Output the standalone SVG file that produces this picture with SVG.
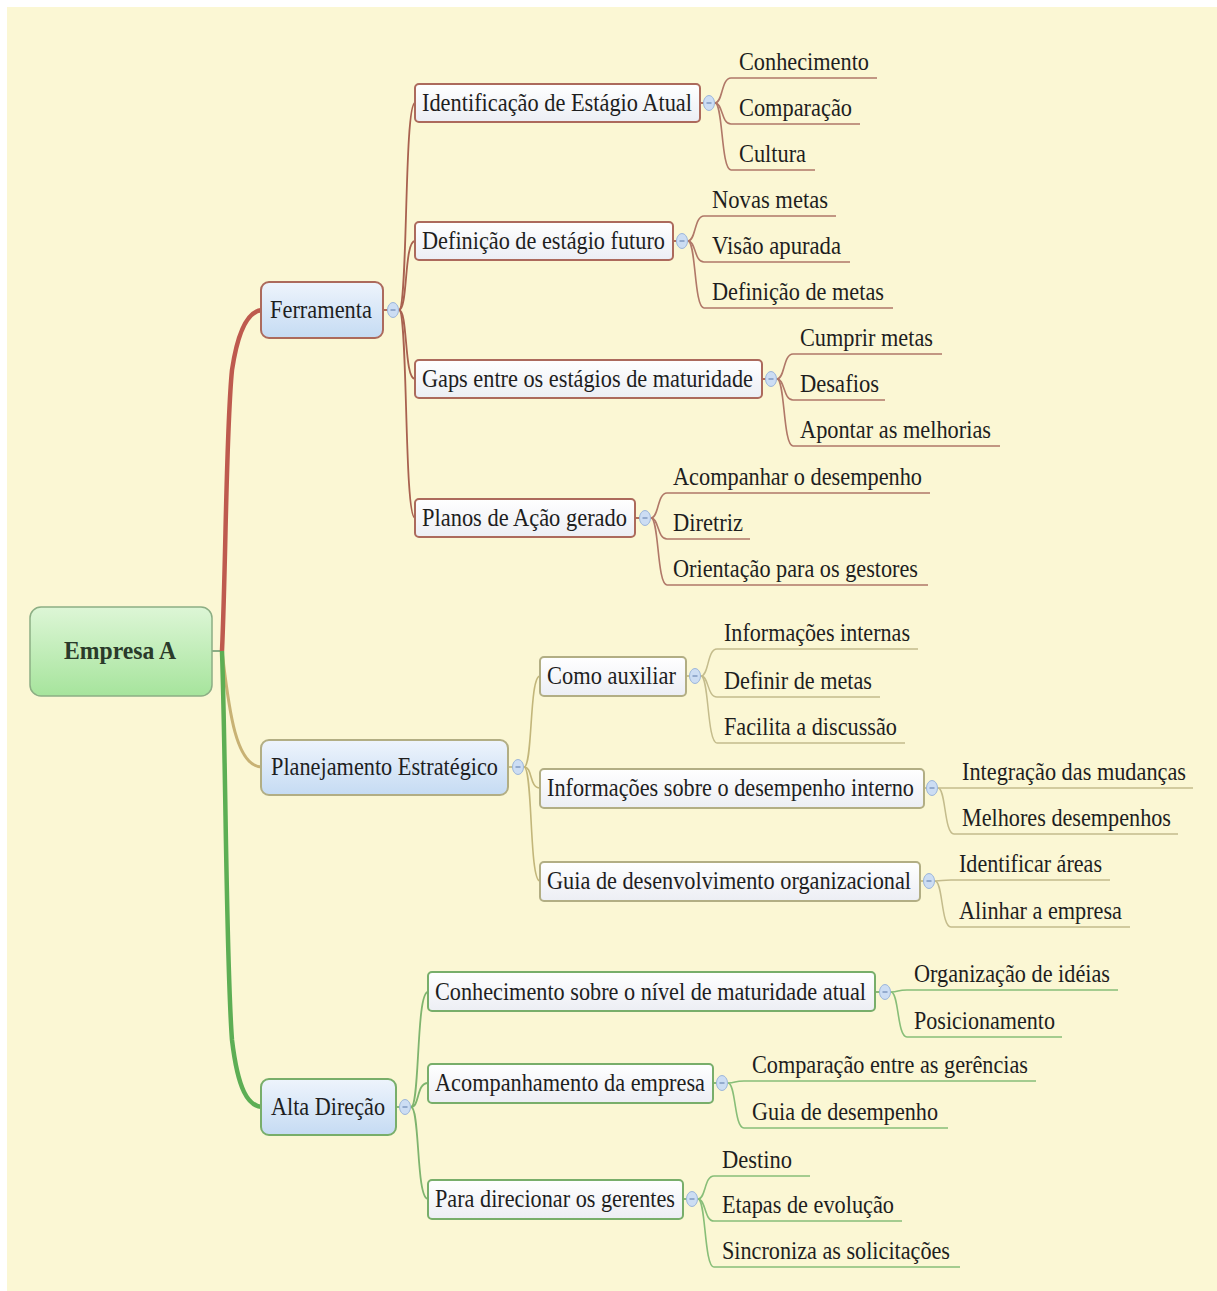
<svg xmlns="http://www.w3.org/2000/svg" width="1217" height="1291" viewBox="0 0 1217 1291">
  <defs>
    <linearGradient id="gRoot" x1="0" y1="0" x2="0" y2="1">
      <stop offset="0" stop-color="#DDF6D6"/>
      <stop offset="1" stop-color="#A6E49C"/>
    </linearGradient>
    <linearGradient id="gMain" x1="0" y1="0" x2="0" y2="1">
      <stop offset="0" stop-color="#EEF4FC"/>
      <stop offset="1" stop-color="#C5DBF3"/>
    </linearGradient>
    <linearGradient id="gSub" x1="0" y1="0" x2="0" y2="1">
      <stop offset="0" stop-color="#FFFFFF"/>
      <stop offset="1" stop-color="#ECEEF4"/>
    </linearGradient>
  </defs>
  <style>
    text { font-family: "Liberation Serif", "Times New Roman", serif; font-size: 25px; fill: #1E1E1E; }
    .rootText { font-weight: bold; font-size: 26px; fill: #2A3A2A; }
    .root { fill: url(#gRoot); stroke: #8CAE84; stroke-width: 1.5; }
    .main { fill: url(#gMain); stroke-width: 2; }
    .sub { fill: url(#gSub); stroke-width: 2; }
    .red { stroke: #AC6A5C; }
    .olive { stroke: #B2AE84; }
    .green { stroke: #78AE6A; }
    .icon { fill: #CCDDF3; stroke: #9CB6DA; stroke-width: 1; }
    .minus { stroke: #5A78A8; stroke-width: 1; }
    #connectors path { fill: none; }
    .cRed { stroke: #A8614F; stroke-width: 1.8; }
    .cOlive { stroke: #C2B67A; stroke-width: 1.6; }
    .cGreen { stroke: #7FB46E; stroke-width: 1.8; }
    .lRed { stroke: #B07868; stroke-width: 1.6; }
    .lOlive { stroke: #C4BC8C; stroke-width: 1.5; }
    .lGreen { stroke: #88BE78; stroke-width: 1.6; }
  </style>

  <!-- canvas -->
  <rect x="0" y="0" width="1217" height="1291" fill="#FFFFFF"/>
  <rect x="7" y="7" width="1210" height="1284" fill="#FBF7D4"/>

  <g id="connectors">
    <!-- trunk from the central topic -->
    <path d="M212 651 L222 651" stroke="#8CAE84" stroke-width="2"/>
    <path d="M222 651 C226 560 226 430 232 370 C238 330 248 311 262 310" stroke="#BE5A4E" stroke-width="4.5"/>
    <path d="M222 651 C228 700 234 767 262 767" stroke="#C8B274" stroke-width="3"/>
    <path d="M222 651 C226 770 226 960 232 1040 C238 1090 248 1106 262 1107" stroke="#5DAE54" stroke-width="4.5"/>

    <!-- Ferramenta branch -->
    <path class="cRed" d="M384 310 L388 310"/>
    <path class="cRed" d="M399 310 C408 310 404 103 415 103"/>
    <path class="cRed" d="M399 310 C408 310 404 241 415 241"/>
    <path class="cRed" d="M399 310 C408 310 404 379 415 379"/>
    <path class="cRed" d="M399 310 C408 310 404 518 415 518"/>
    <path class="cRed" d="M700 103 L704 103"/>
    <path class="cRed" d="M673 241 L677 241"/>
    <path class="cRed" d="M762 379 L766 379"/>
    <path class="cRed" d="M635 518 L640 518"/>

    <path class="lRed" d="M715 103 C723 103 721 78 731 78 L877 78"/>
    <path class="lRed" d="M715 103 C723 103 721 124 731 124 L860 124"/>
    <path class="lRed" d="M715 103 C723 103 721 170 731 170 L815 170"/>

    <path class="lRed" d="M688 241 C696 241 694 216 704 216 L836 216"/>
    <path class="lRed" d="M688 241 C696 241 694 262 704 262 L850 262"/>
    <path class="lRed" d="M688 241 C696 241 694 308 704 308 L893 308"/>

    <path class="lRed" d="M777 379 C785 379 783 354 793 354 L942 354"/>
    <path class="lRed" d="M777 379 C785 379 783 400 793 400 L885 400"/>
    <path class="lRed" d="M777 379 C785 379 783 446 793 446 L1000 446"/>

    <path class="lRed" d="M651 518 C659 518 657 493 667 493 L930 493"/>
    <path class="lRed" d="M651 518 C659 518 657 539 667 539 L750 539"/>
    <path class="lRed" d="M651 518 C659 518 657 585 667 585 L928 585"/>

    <!-- Planejamento Estratégico branch -->
    <path class="cOlive" d="M509 767 L513 767"/>
    <path class="cOlive" d="M524 767 C533 767 529 676 540 676"/>
    <path class="cOlive" d="M524 767 C533 767 529 788 540 788"/>
    <path class="cOlive" d="M524 767 C533 767 529 881 540 881"/>
    <path class="cOlive" d="M686 676 L690 676"/>
    <path class="cOlive" d="M924 788 L927 788"/>
    <path class="cOlive" d="M920 881 L924 881"/>

    <path class="lOlive" d="M701 676 C709 676 707 649 717 649 L918 649"/>
    <path class="lOlive" d="M701 676 C709 676 707 697 717 697 L880 697"/>
    <path class="lOlive" d="M701 676 C709 676 707 743 717 743 L905 743"/>

    <path class="lOlive" d="M938 788 C946 788 944 788 954 788 L1193 788"/>
    <path class="lOlive" d="M938 788 C946 788 944 834 954 834 L1178 834"/>

    <path class="lOlive" d="M935 881 C943 881 941 880 951 880 L1110 880"/>
    <path class="lOlive" d="M935 881 C943 881 941 927 951 927 L1130 927"/>

    <!-- Alta Direção branch -->
    <path class="cGreen" d="M397 1107 L400 1107"/>
    <path class="cGreen" d="M411 1107 C420 1107 416 992 428 992"/>
    <path class="cGreen" d="M411 1107 C420 1107 416 1083 428 1083"/>
    <path class="cGreen" d="M411 1107 C420 1107 416 1199 428 1199"/>
    <path class="cGreen" d="M875 992 L880 992"/>
    <path class="cGreen" d="M713 1083 L717 1083"/>
    <path class="cGreen" d="M683 1199 L687 1199"/>

    <path class="lGreen" d="M891 992 C899 992 897 990 907 990 L1118 990"/>
    <path class="lGreen" d="M891 992 C899 992 897 1037 907 1037 L1062 1037"/>

    <path class="lGreen" d="M728 1083 C736 1083 734 1081 744 1081 L1036 1081"/>
    <path class="lGreen" d="M728 1083 C736 1083 734 1128 744 1128 L948 1128"/>

    <path class="lGreen" d="M698 1199 C706 1199 704 1176 714 1176 L810 1176"/>
    <path class="lGreen" d="M698 1199 C706 1199 704 1221 714 1221 L902 1221"/>
    <path class="lGreen" d="M698 1199 C706 1199 704 1267 714 1267 L960 1267"/>
  </g>

  <!-- central topic -->
  <g id="empresa-a">
    <rect class="root" x="30" y="607" width="182" height="89" rx="11"/>
    <text class="rootText" x="64" y="659" textLength="112" lengthAdjust="spacingAndGlyphs">Empresa A</text>
  </g>

  <!-- main topics -->
  <g id="ferramenta">
    <rect class="main red" x="261" y="282" width="122" height="56" rx="8"/>
    <text x="270" y="318" textLength="102" lengthAdjust="spacingAndGlyphs">Ferramenta</text>
    <ellipse class="icon" cx="393" cy="310" rx="5.5" ry="7.5"/><line class="minus" x1="390.5" y1="310" x2="395.5" y2="310"/>
  </g>
  <g id="planejamento-estrategico">
    <rect class="main olive" x="261" y="740" width="247" height="55" rx="8"/>
    <text x="271" y="775" textLength="227" lengthAdjust="spacingAndGlyphs">Planejamento Estratégico</text>
    <ellipse class="icon" cx="518" cy="767" rx="5.5" ry="7.5"/><line class="minus" x1="515.5" y1="767" x2="520.5" y2="767"/>
  </g>
  <g id="alta-direcao">
    <rect class="main green" x="261" y="1079" width="135" height="56" rx="8"/>
    <text x="271" y="1115" textLength="114" lengthAdjust="spacingAndGlyphs">Alta Direção</text>
    <ellipse class="icon" cx="405" cy="1107" rx="5.5" ry="7.5"/><line class="minus" x1="402.5" y1="1107" x2="407.5" y2="1107"/>
  </g>

  <!-- Ferramenta subtopics -->
  <g id="identificacao">
    <rect class="sub red" x="415" y="84" width="285" height="38" rx="4"/>
    <text x="422" y="111" textLength="270" lengthAdjust="spacingAndGlyphs">Identificação de Estágio Atual</text>
    <ellipse class="icon" cx="709" cy="103" rx="5.5" ry="7.5"/><line class="minus" x1="706.5" y1="103" x2="711.5" y2="103"/>
  </g>
  <g id="definicao-futuro">
    <rect class="sub red" x="415" y="222" width="258" height="38" rx="4"/>
    <text x="422" y="249" textLength="243" lengthAdjust="spacingAndGlyphs">Definição de estágio futuro</text>
    <ellipse class="icon" cx="682" cy="241" rx="5.5" ry="7.5"/><line class="minus" x1="679.5" y1="241" x2="684.5" y2="241"/>
  </g>
  <g id="gaps">
    <rect class="sub red" x="415" y="360" width="347" height="38" rx="4"/>
    <text x="422" y="387" textLength="331" lengthAdjust="spacingAndGlyphs">Gaps entre os estágios de maturidade</text>
    <ellipse class="icon" cx="771" cy="379" rx="5.5" ry="7.5"/><line class="minus" x1="768.5" y1="379" x2="773.5" y2="379"/>
  </g>
  <g id="planos">
    <rect class="sub red" x="415" y="499" width="220" height="38" rx="4"/>
    <text x="422" y="526" textLength="205" lengthAdjust="spacingAndGlyphs">Planos de Ação gerado</text>
    <ellipse class="icon" cx="645" cy="518" rx="5.5" ry="7.5"/><line class="minus" x1="642.5" y1="518" x2="647.5" y2="518"/>
  </g>

  <!-- Planejamento subtopics -->
  <g id="como-auxiliar">
    <rect class="sub olive" x="540" y="657" width="146" height="39" rx="4"/>
    <text x="547" y="684" textLength="129" lengthAdjust="spacingAndGlyphs">Como auxiliar</text>
    <ellipse class="icon" cx="695" cy="676" rx="5.5" ry="7.5"/><line class="minus" x1="692.5" y1="676" x2="697.5" y2="676"/>
  </g>
  <g id="informacoes-desempenho">
    <rect class="sub olive" x="540" y="769" width="384" height="39" rx="4"/>
    <text x="547" y="796" textLength="367" lengthAdjust="spacingAndGlyphs">Informações sobre o desempenho interno</text>
    <ellipse class="icon" cx="932" cy="788" rx="5.5" ry="7.5"/><line class="minus" x1="929.5" y1="788" x2="934.5" y2="788"/>
  </g>
  <g id="guia-desenvolvimento">
    <rect class="sub olive" x="540" y="862" width="380" height="39" rx="4"/>
    <text x="547" y="889" textLength="364" lengthAdjust="spacingAndGlyphs">Guia de desenvolvimento organizacional</text>
    <ellipse class="icon" cx="929" cy="881" rx="5.5" ry="7.5"/><line class="minus" x1="926.5" y1="881" x2="931.5" y2="881"/>
  </g>

  <!-- Alta Direção subtopics -->
  <g id="conhecimento-maturidade">
    <rect class="sub green" x="428" y="972" width="447" height="39" rx="4"/>
    <text x="435" y="1000" textLength="431" lengthAdjust="spacingAndGlyphs">Conhecimento sobre o nível de maturidade atual</text>
    <ellipse class="icon" cx="885" cy="992" rx="5.5" ry="7.5"/><line class="minus" x1="882.5" y1="992" x2="887.5" y2="992"/>
  </g>
  <g id="acompanhamento-empresa">
    <rect class="sub green" x="428" y="1064" width="285" height="39" rx="4"/>
    <text x="435" y="1091" textLength="270" lengthAdjust="spacingAndGlyphs">Acompanhamento da empresa</text>
    <ellipse class="icon" cx="722" cy="1083" rx="5.5" ry="7.5"/><line class="minus" x1="719.5" y1="1083" x2="724.5" y2="1083"/>
  </g>
  <g id="direcionar-gerentes">
    <rect class="sub green" x="428" y="1180" width="255" height="39" rx="4"/>
    <text x="435" y="1207" textLength="240" lengthAdjust="spacingAndGlyphs">Para direcionar os gerentes</text>
    <ellipse class="icon" cx="692" cy="1199" rx="5.5" ry="7.5"/><line class="minus" x1="689.5" y1="1199" x2="694.5" y2="1199"/>
  </g>

  <!-- leaf topics -->
  <g id="leaves">
    <g id="conhecimento"><text x="739" y="70" textLength="130" lengthAdjust="spacingAndGlyphs">Conhecimento</text></g>
    <g id="comparacao"><text x="739" y="116" textLength="113" lengthAdjust="spacingAndGlyphs">Comparação</text></g>
    <g id="cultura"><text x="739" y="162" textLength="67" lengthAdjust="spacingAndGlyphs">Cultura</text></g>

    <g id="novas-metas"><text x="712" y="208" textLength="116" lengthAdjust="spacingAndGlyphs">Novas metas</text></g>
    <g id="visao-apurada"><text x="712" y="254" textLength="129" lengthAdjust="spacingAndGlyphs">Visão apurada</text></g>
    <g id="definicao-metas"><text x="712" y="300" textLength="172" lengthAdjust="spacingAndGlyphs">Definição de metas</text></g>

    <g id="cumprir-metas"><text x="800" y="346" textLength="133" lengthAdjust="spacingAndGlyphs">Cumprir metas</text></g>
    <g id="desafios"><text x="800" y="392" textLength="79" lengthAdjust="spacingAndGlyphs">Desafios</text></g>
    <g id="apontar-melhorias"><text x="800" y="438" textLength="191" lengthAdjust="spacingAndGlyphs">Apontar as melhorias</text></g>

    <g id="acompanhar-desempenho"><text x="673" y="485" textLength="249" lengthAdjust="spacingAndGlyphs">Acompanhar o desempenho</text></g>
    <g id="diretriz"><text x="673" y="531" textLength="70" lengthAdjust="spacingAndGlyphs">Diretriz</text></g>
    <g id="orientacao-gestores"><text x="673" y="577" textLength="245" lengthAdjust="spacingAndGlyphs">Orientação para os gestores</text></g>

    <g id="informacoes-internas"><text x="724" y="641" textLength="186" lengthAdjust="spacingAndGlyphs">Informações internas</text></g>
    <g id="definir-metas"><text x="724" y="689" textLength="148" lengthAdjust="spacingAndGlyphs">Definir de metas</text></g>
    <g id="facilita-discussao"><text x="724" y="735" textLength="173" lengthAdjust="spacingAndGlyphs">Facilita a discussão</text></g>

    <g id="integracao-mudancas"><text x="962" y="780" textLength="224" lengthAdjust="spacingAndGlyphs">Integração das mudanças</text></g>
    <g id="melhores-desempenhos"><text x="962" y="826" textLength="209" lengthAdjust="spacingAndGlyphs">Melhores desempenhos</text></g>

    <g id="identificar-areas"><text x="959" y="872" textLength="143" lengthAdjust="spacingAndGlyphs">Identificar áreas</text></g>
    <g id="alinhar-empresa"><text x="959" y="919" textLength="163" lengthAdjust="spacingAndGlyphs">Alinhar a empresa</text></g>

    <g id="organizacao-ideias"><text x="914" y="982" textLength="196" lengthAdjust="spacingAndGlyphs">Organização de idéias</text></g>
    <g id="posicionamento"><text x="914" y="1029" textLength="141" lengthAdjust="spacingAndGlyphs">Posicionamento</text></g>

    <g id="comparacao-gerencias"><text x="752" y="1073" textLength="276" lengthAdjust="spacingAndGlyphs">Comparação entre as gerências</text></g>
    <g id="guia-desempenho"><text x="752" y="1120" textLength="186" lengthAdjust="spacingAndGlyphs">Guia de desempenho</text></g>

    <g id="destino"><text x="722" y="1168" textLength="70" lengthAdjust="spacingAndGlyphs">Destino</text></g>
    <g id="etapas-evolucao"><text x="722" y="1213" textLength="172" lengthAdjust="spacingAndGlyphs">Etapas de evolução</text></g>
    <g id="sincroniza-solicitacoes"><text x="722" y="1259" textLength="228" lengthAdjust="spacingAndGlyphs">Sincroniza as solicitações</text></g>
  </g>
</svg>
